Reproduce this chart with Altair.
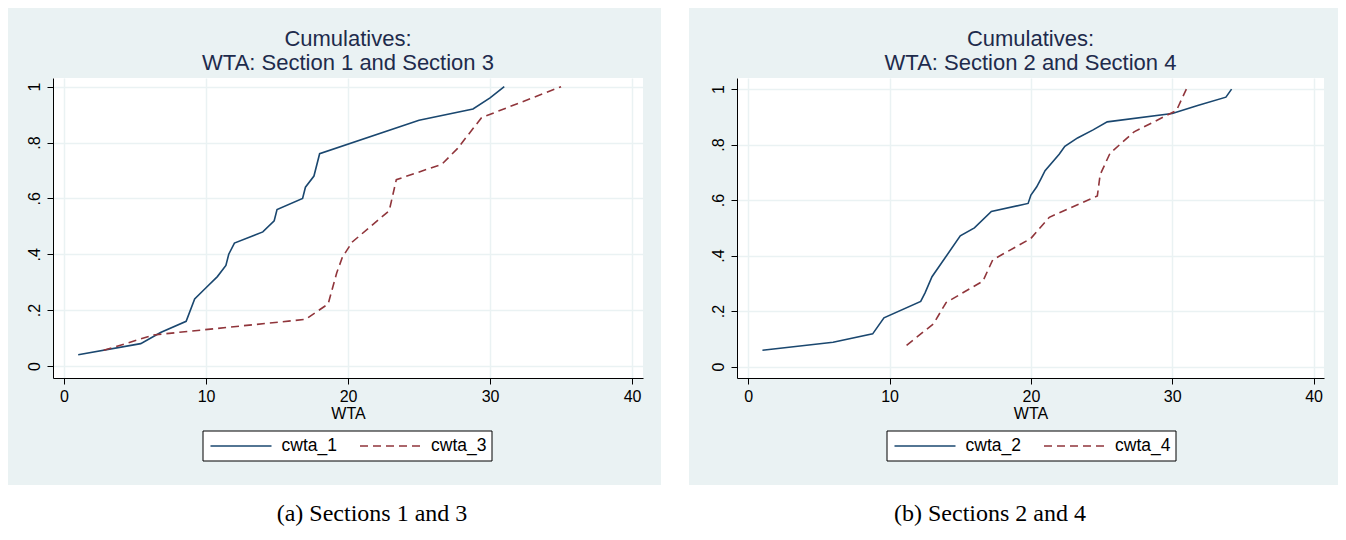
import altair as alt
import pandas as pd

NAVY = "#1A476F"
MAROON = "#90353B"
BG = "#EAF2F3"
TITLE_COLOR = "#1E2B4C"
SANS = "Liberation Sans"
SERIF = "Liberation Serif"

# ---- data ----
cwta_1_x = [1.0, 5.4, 6.8, 8.6, 9.2, 10.0, 10.8, 11.4, 11.6, 12.0, 14.0, 14.8, 15.0, 16.8, 17.0, 17.6, 18.0, 25.0, 28.8, 30.0, 31.0]
cwta_1_y = [0.04, 0.08, 0.12, 0.16, 0.24, 0.28, 0.32, 0.36, 0.40, 0.44, 0.48, 0.52, 0.56, 0.60, 0.64, 0.68, 0.76, 0.88, 0.92, 0.96, 1.0]

cwta_3_x = [2.8, 6.3, 17.0, 18.6, 19.2, 19.6, 20.3, 22.9, 23.4, 26.6, 27.7, 29.4, 35.0]
cwta_3_y = [0.056, 0.111, 0.167, 0.222, 0.333, 0.389, 0.444, 0.556, 0.667, 0.722, 0.778, 0.889, 1.0]

cwta_2_x = [1.0, 6.0, 8.8, 9.6, 12.2, 12.5, 13.0, 15.0, 16.0, 17.2, 19.8, 20.0, 20.4, 20.7, 21.0, 22.0, 22.4, 23.3, 24.4, 25.4, 30.0, 31.8, 33.8, 34.2]
cwta_2_y = [0.059, 0.088, 0.118, 0.176, 0.235, 0.265, 0.324, 0.471, 0.5, 0.559, 0.588, 0.618, 0.647, 0.676, 0.706, 0.765, 0.794, 0.824, 0.853, 0.882, 0.912, 0.941, 0.971, 1.0]

cwta_4_x = [11.2, 13.1, 14.0, 16.6, 17.3, 20.0, 21.3, 24.7, 24.9, 25.6, 27.3, 30.3, 31.0]
cwta_4_y = [0.077, 0.154, 0.231, 0.308, 0.385, 0.462, 0.538, 0.615, 0.692, 0.769, 0.846, 0.923, 1.0]

x_ticks = [0, 10, 20, 30, 40]
y_ticks = [0, 0.2, 0.4, 0.6, 0.8, 1.0]
title_line1 = "Cumulatives:"
titles = ["WTA: Section 1 and Section 3", "WTA: Section 2 and Section 4"]
names_left = ["cwta_1", "cwta_3"]
names_right = ["cwta_2", "cwta_4"]
captions = ["(a) Sections 1 and 3", "(b) Sections 2 and 4"]

one = pd.DataFrame({"k": [0]})


def rect(x, x2, y, y2, **kw):
    return alt.Chart(one).mark_rect(**kw).encode(
        x=alt.value(x), x2=alt.value(x2), y=alt.value(y), y2=alt.value(y2))


def panel(ax, ay, bx, by, names, title2, caption, xdom, ydom, w, h,
          paints, legend_x, cap_x, cap_y):
    d1 = pd.DataFrame({"WTA": ax, "cum": ay})
    d2 = pd.DataFrame({"WTA": bx, "cum": by})
    X = alt.X("WTA:Q", scale=alt.Scale(domain=xdom, nice=False, zero=False),
              axis=alt.Axis(values=x_ticks, format="d", title="WTA", grid=True,
                            labelPadding=4, titlePadding=1, labelAngle=0))
    Y = alt.Y("cum:Q", scale=alt.Scale(domain=ydom, nice=False, zero=False),
              axis=alt.Axis(values=y_ticks, title=None, grid=True,
                            labelExpr="datum.value == 1 ? '1' : datum.value == 0 ? '0' : replace(format(datum.value, '.1f'), '0.', '.')",
                            labelAngle=270, labelAlign="center", labelBaseline="middle",
                            labelPadding=13))
    layers = [rect(*p, color="white") for p in paints]
    l1 = alt.Chart(d1).mark_line(color=NAVY, strokeWidth=1.6).encode(x=X, y=Y)
    l2 = alt.Chart(d2).mark_line(color=MAROON, strokeWidth=1.6, strokeDash=[8, 5]).encode(x=X, y=Y)
    layers += [l1, l2]
    # legend (box, symbols, labels)
    ly = 368
    layers.append(rect(legend_x, legend_x + 289, 353, 383, fill="white", stroke="black", strokeWidth=1))
    layers.append(alt.Chart(one).mark_rule(color=NAVY, strokeWidth=1.6).encode(
        x=alt.value(legend_x + 7.5), x2=alt.value(legend_x + 68.5), y=alt.value(ly)))
    layers.append(alt.Chart(one).mark_rule(color=MAROON, strokeWidth=1.6, strokeDash=[8, 5]).encode(
        x=alt.value(legend_x + 157), x2=alt.value(legend_x + 218.5), y=alt.value(ly)))
    layers.append(alt.Chart(one).mark_text(align="left", baseline="middle", font=SANS, fontSize=17.5,
                                           color="black").encode(
        x=alt.value(legend_x + 78.5), y=alt.value(ly), text=alt.value(names[0])))
    layers.append(alt.Chart(one).mark_text(align="left", baseline="middle", font=SANS, fontSize=17.5,
                                           color="black").encode(
        x=alt.value(legend_x + 228), y=alt.value(ly), text=alt.value(names[1])))
    layers.append(alt.Chart(one).mark_text(align="center", baseline="alphabetic", font=SERIF,
                                           fontSize=24, color="black").encode(
        x=alt.value(cap_x), y=alt.value(cap_y), text=alt.value(caption)))
    return alt.layer(*layers).properties(
        width=w, height=h,
        title=alt.TitleParams([title_line1, title2], fontSize=22, font=SANS, fontWeight="normal",
                              color=TITLE_COLOR, anchor="middle", frame="group", offset=3,
                              lineHeight=24))


# left panel: plot origin at page (53, 78)
left = panel(cwta_1_x, cwta_1_y, cwta_3_x, cwta_3_y, names_left, titles[0], captions[0],
             [-0.775, 40.77], [-0.043, 1.031], 590, 300,
             paints=[(-45, 608, 407, 448)],
             legend_x=150, cap_x=319, cap_y=443)

# white gap between the two panels
spacer = rect(0, 28, -70, 448, color="white").properties(width=28, height=300)

# right panel: plot origin at page (737, 78)
right = panel(cwta_2_x, cwta_2_y, cwta_4_x, cwta_4_y, names_right, titles[1], captions[1],
              [-0.8, 40.74], [-0.041, 1.040], 587, 300,
              paints=[(-48, 601, 407, 448)],
              legend_x=150, cap_x=253, cap_y=443)

chart = alt.hconcat(left, spacer, right, spacing=0).properties(
    padding=0, background=BG
).configure_view(
    stroke=None, fill="white"
).configure_axis(
    domainColor="black", domainWidth=1, tickColor="black", tickWidth=1, tickSize=6,
    labelFont=SANS, labelFontSize=16, labelColor="black",
    gridColor=BG, gridWidth=1.5,
    titleFont=SANS, titleFontSize=16, titleFontWeight="normal", titleColor="black"
)

chart.save("out.html", embed_options={"renderer": "svg", "actions": False})
